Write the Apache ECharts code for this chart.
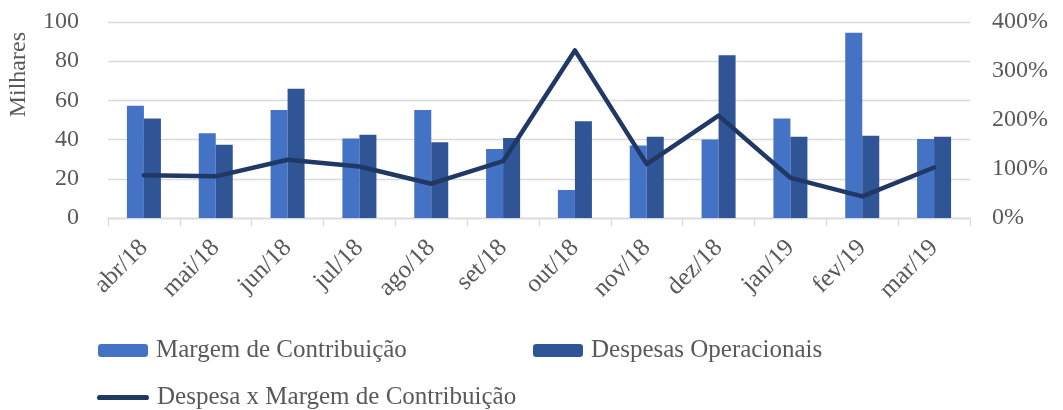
<!DOCTYPE html>
<html>
<head>
<meta charset="utf-8">
<script src="https://cdn.jsdelivr.net/npm/echarts@6/dist/echarts.min.js"></script>
<style>
html,body{margin:0;padding:0;background:#fff;}
#chart{width:1063px;height:410px;}
</style>
</head>
<body>
<div id="chart"></div>
<script>
var categories = ['abr/18','mai/18','jun/18','jul/18','ago/18','set/18','out/18','nov/18','dez/18','jan/19','fev/19','mar/19'];
var margem = [57.3, 43.2, 55.1, 40.6, 55.1, 35.2, 14.3, 37.0, 40.1, 50.8, 94.5, 40.3];
var despesas = [50.8, 37.4, 66.0, 42.5, 38.6, 40.8, 49.3, 41.5, 83.0, 41.5, 42.0, 41.5];
var ratio = [87, 85, 119, 105, 70, 116, 342, 110, 209, 82, 44, 103];
var leftTicks = [0, 20, 40, 60, 80, 100];
var rightTicks = ['0%', '100%', '200%', '300%', '400%'];

var FONT = '"Liberation Serif", "DejaVu Serif", serif';
var TXT = '#595959';
var chart = echarts.init(document.getElementById('chart'), null, {renderer: 'canvas'});
chart.setOption({
  animation: false,
  backgroundColor: '#fff',
  textStyle: {fontFamily: FONT, color: TXT},
  grid: {left: 108, right: 93, top: 22, bottom: 192, containLabel: false},
  graphic: [{
    type: 'text',
    left: 7, top: 32,
    rotation: Math.PI / 2,
    style: {text: 'Milhares', font: '24px ' + FONT, fill: TXT}
  }],
  legend: [
    {data: ['Margem de Contribuição'], left: 98, top: 338, padding: 0, itemWidth: 50, itemHeight: 13,
     textStyle: {fontFamily: FONT, fontSize: 25, color: TXT, padding: [0,0,0,3]}},
    {data: ['Despesas Operacionais'], left: 533, top: 338, padding: 0, itemWidth: 50, itemHeight: 13,
     textStyle: {fontFamily: FONT, fontSize: 25, color: TXT, padding: [0,0,0,3]}},
    {data: [{name: 'Despesa x Margem de Contribuição',
             icon: 'path://M2.5,0 L47.5,0 A2.5,2.5 0 0 1 47.5,5 L2.5,5 A2.5,2.5 0 0 1 2.5,0 Z',
             itemStyle: {color: '#203864'}}],
     left: 97, top: 385, padding: 0, itemWidth: 52, itemHeight: 5.2,
     textStyle: {fontFamily: FONT, fontSize: 25, color: TXT, padding: [0,0,0,3]}}
  ],
  xAxis: {
    type: 'category',
    data: categories,
    boundaryGap: true,
    axisLine: {lineStyle: {color: '#D9D9D9', width: 1.3}},
    axisTick: {show: true, length: 8, lineStyle: {color: '#D9D9D9', width: 1.3}},
    axisLabel: {rotate: 45, fontFamily: FONT, fontSize: 25, color: TXT, margin: 26}
  },
  yAxis: [{
    type: 'value', min: 0, max: 100, interval: 20,
    axisLine: {show: false}, axisTick: {show: false},
    splitLine: {lineStyle: {color: '#D9D9D9', width: 1.3}},
    axisLabel: {fontFamily: FONT, fontSize: 24, color: TXT, margin: 29,
      formatter: function (v) { return leftTicks.indexOf(v) >= 0 ? String(v) : ''; }}
  }, {
    type: 'value', min: 0, max: 400, interval: 100,
    axisLine: {show: false}, axisTick: {show: false}, splitLine: {show: false},
    axisLabel: {fontFamily: FONT, fontSize: 24, color: TXT, margin: 22,
      formatter: function (v) { return rightTicks[v / 100]; }}
  }],
  series: [
    {name: 'Margem de Contribuição', type: 'bar', data: margem, barWidth: 17, barGap: '0%',
     itemStyle: {color: '#4472C4'}},
    {name: 'Despesas Operacionais', type: 'bar', data: despesas, barWidth: 17, barGap: '0%',
     itemStyle: {color: '#2F5597'}},
    {name: 'Despesa x Margem de Contribuição', type: 'line', yAxisIndex: 1, data: ratio,
     symbol: 'none', lineStyle: {color: '#203864', width: 4.5, cap: 'round', join: 'round'},
     itemStyle: {color: '#203864'}}
  ]
});
</script>
</body>
</html>
